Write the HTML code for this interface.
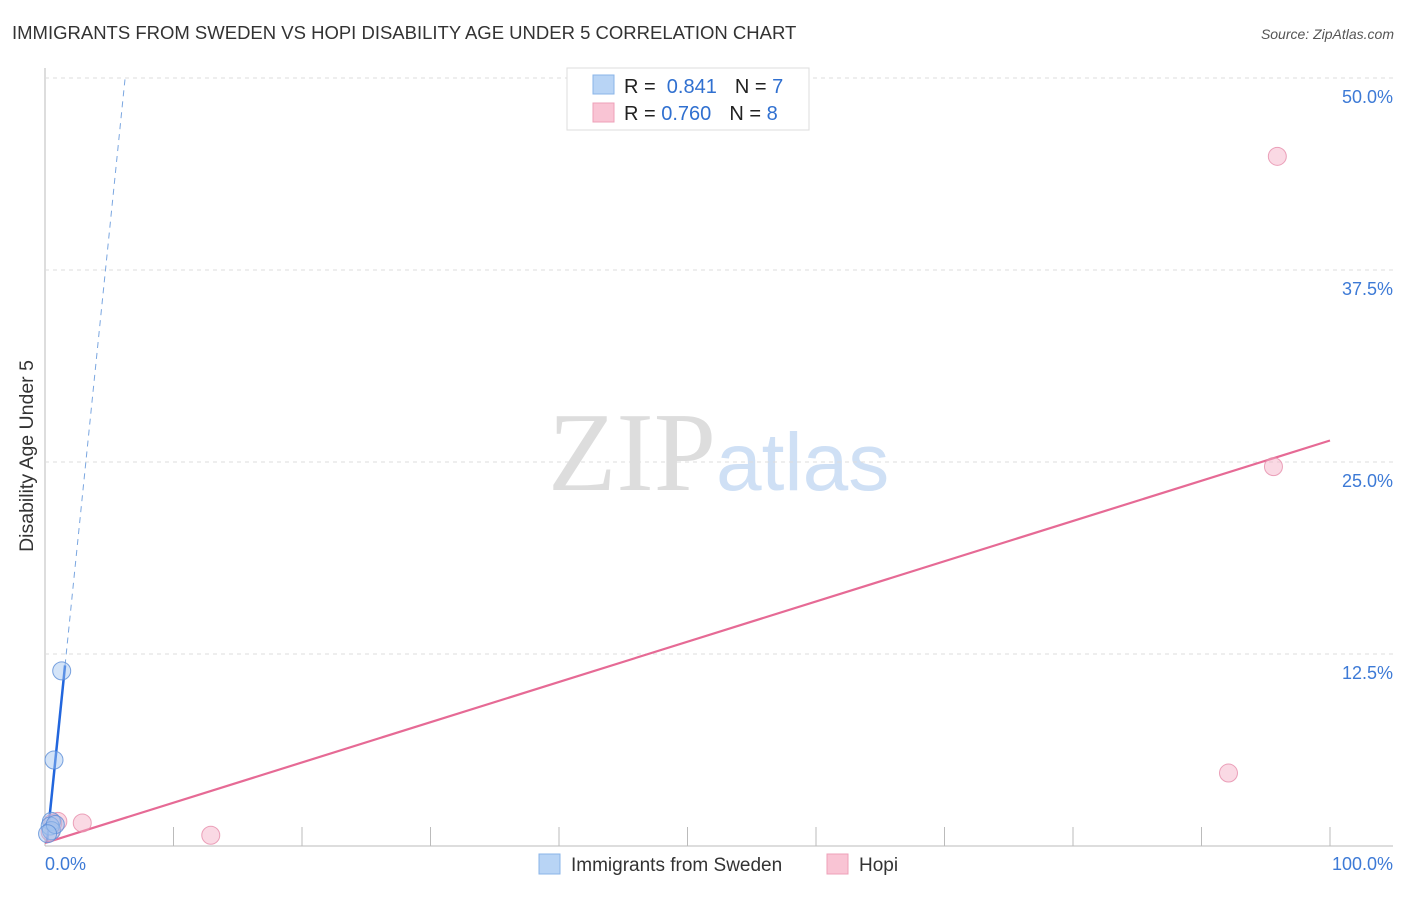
<!DOCTYPE html>
<html><head><meta charset="utf-8"><style>
body{margin:0;background:#fff;font-family:"Liberation Sans",sans-serif;}
svg text{font-family:"Liberation Sans",sans-serif;}
</style></head><body>
<svg width="1406" height="892" id="c">
<text x="12" y="39" font-size="18.5" fill="#333">IMMIGRANTS FROM SWEDEN VS HOPI DISABILITY AGE UNDER 5 CORRELATION CHART</text>
<text x="1394" y="39" font-size="14" fill="#555" font-style="italic" text-anchor="end">Source: ZipAtlas.com</text>
<text x="33" y="456" font-size="19.5" fill="#333" text-anchor="middle" transform="rotate(-90 33 456)">Disability Age Under 5</text>
<text x="716" y="490" font-size="112" fill="#ddd" text-anchor="end" style="font-family:'Liberation Serif',serif">ZIP</text>
<text x="716" y="490" font-size="82" fill="#cfe0f5">atlas</text>
<g id="grid"></g><g id="marks"></g>
<g>
<rect x="567" y="68" width="242" height="62" fill="#fff" stroke="#ddd"/>
<rect x="593" y="75" width="21" height="19" fill="#b8d4f5" stroke="#8ab4e8"/>
<rect x="593" y="103" width="21" height="19" fill="#f9c4d4" stroke="#eea0b8"/>
<text x="624" y="93" font-size="20" fill="#222">R = <tspan fill="#3070d0">&#160;0.841</tspan><tspan dx="18">N = </tspan><tspan fill="#3070d0">7</tspan></text>
<text x="624" y="120" font-size="20" fill="#222">R = <tspan fill="#3070d0">0.760</tspan><tspan dx="18">N = </tspan><tspan fill="#3070d0">8</tspan></text>
</g>
<g>
<rect x="539" y="854" width="21" height="20" fill="#b8d4f5" stroke="#8ab4e8"/>
<text x="571" y="871" font-size="19" fill="#333">Immigrants from Sweden</text>
<rect x="827" y="854" width="21" height="20" fill="#f9c4d4" stroke="#eea0b8"/>
<text x="859" y="871" font-size="19" fill="#333">Hopi</text>
</g>
</svg>
<script>
const yTicks=[12.5,25,37.5,50];
const yTickLabels=["12.5%","25.0%","37.5%","50.0%"];
const xTickLabels=["0.0%","100.0%"];
const swedenX=[1.3,0.7,0.5,0.4,0.5,0.8,0.2];
const swedenY=[11.4,5.6,1.6,1.3,1.0,1.4,0.8];
const hopiX=[95.9,95.6,92.1,2.9,12.9,1.0,0.6,0.4];
const hopiY=[44.9,24.7,4.75,1.5,0.7,1.6,1.5,0.9];
const swedenFit=[-1.0,8.18];
const hopiFit=[0.2,0.262];
const X=v=>45+v*12.85, Y=v=>846-v*15.36;
const NS="http://www.w3.org/2000/svg";
const g=document.getElementById('grid'),m=document.getElementById('marks');
function mk(p,t,a){const e=document.createElementNS(NS,t);for(const k in a)e.setAttribute(k,a[k]);p.appendChild(e);return e;}
let ax=mk(g,'line',{x1:45,y1:68,x2:45,y2:846,stroke:'#bbb'});


let bx=mk(g,'line',{x1:45,y1:846,x2:1393,y2:846,stroke:'#bbb'});


yTicks.forEach((v,i)=>{
 let l=mk(g,'line',{x1:45,x2:1393,y1:Y(v),y2:Y(v),stroke:'#ddd','stroke-dasharray':'4,4'});
 
 
 let t=mk(g,'text',{x:1393,y:Y(v)+25,'font-size':18,fill:'#3d7ad6','text-anchor':'end'});t.textContent=yTickLabels[i];
 
 
});
for(let i=1;i<=10;i++){let l=mk(g,'line',{x1:X(i*10),x2:X(i*10),y1:827,y2:846,stroke:'#bbb'});
 
 }
[[0,'start',45],[100,'end',1393]].forEach((d,i)=>{let t=mk(g,'text',{x:d[2],y:870,'font-size':18,fill:'#3d7ad6','text-anchor':d[1]});t.textContent=xTickLabels[i];
 
 });
const sx1=(50-swedenFit[0])/swedenFit[1];
let d1=mk(m,'line',{x1:X(1.56),y1:Y(swedenFit[0]+swedenFit[1]*1.56),x2:X(sx1),y2:Y(50),stroke:'#7aa6e0','stroke-dasharray':'6,5','stroke-width':1});


const sx0=(0.2-swedenFit[0])/swedenFit[1];
let s1=mk(m,'line',{x1:X(sx0),y1:Y(0.2),x2:X(1.56),y2:Y(swedenFit[0]+swedenFit[1]*1.56),stroke:'#2266dd','stroke-width':2.5});


let h1=mk(m,'line',{x1:X(0),y1:Y(hopiFit[0]),x2:X(100),y2:Y(hopiFit[0]+hopiFit[1]*100),stroke:'#e66a95','stroke-width':2.2});


hopiX.forEach((v,i)=>{let c=mk(m,'circle',{cx:X(v),cy:Y(hopiY[i]),r:9,fill:'rgba(245,170,195,0.45)',stroke:'rgba(230,140,170,0.8)'});
 
 });
swedenX.forEach((v,i)=>{let c=mk(m,'circle',{cx:X(v),cy:Y(swedenY[i]),r:9,fill:'rgba(160,195,240,0.45)',stroke:'rgba(90,140,215,0.8)'});
 
 });
</script>
</body></html>
